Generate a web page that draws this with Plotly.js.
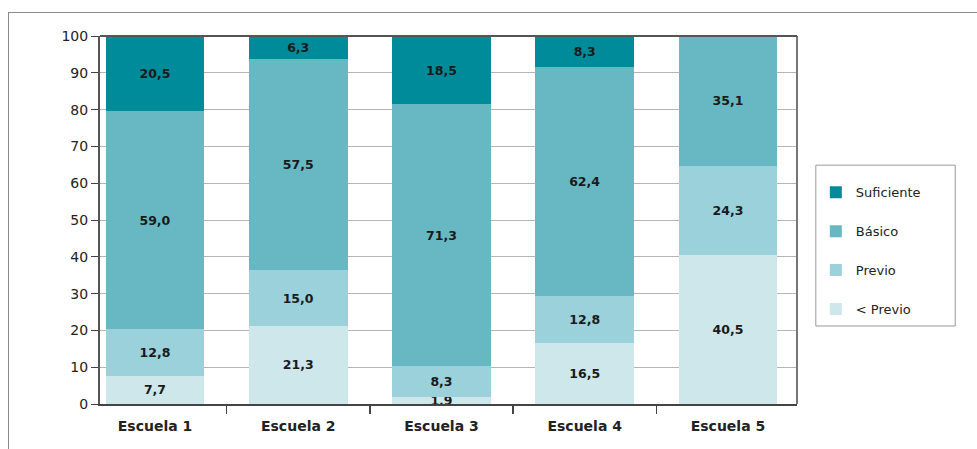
<!DOCTYPE html>
<html>
<head>
<meta charset="utf-8">
<script src="https://cdn.plot.ly/plotly-3.0.1.min.js"></script>
<style>
html,body{margin:0;padding:0;background:#fff;overflow:hidden;}
#frame{position:absolute;left:8px;top:12px;width:1200px;height:600px;border:1px solid #8a8a8a;box-sizing:border-box;pointer-events:none;z-index:5;}
#chart{position:absolute;left:0;top:0;width:977px;height:449px;}
</style>
</head>
<body>
<div id="chart"></div>
<div id="frame"></div>
<script>
var categories = ["Escuela 1", "Escuela 2", "Escuela 3", "Escuela 4", "Escuela 5"];
var menosPrevio = [7.7, 21.3, 1.9, 16.5, 40.5];
var previo = [12.8, 15.0, 8.3, 12.8, 24.3];
var basico = [59.0, 57.5, 71.3, 62.4, 35.1];
var suficiente = [20.5, 6.3, 18.5, 8.3, 0];
var seriesNames = ["< Previo", "Previo", "Básico", "Suficiente"];
var seriesColors = ["#cde7eb", "#9bd1da", "#67b8c3", "#008b9b"];
var yTicks = [0, 10, 20, 30, 40, 50, 60, 70, 80, 90, 100];

function fmt(arr){ return arr.map(function(v){ return v > 0 ? v.toFixed(1).replace('.', ',') : ''; }); }

var allVals = [menosPrevio, previo, basico, suficiente];
var traces = allVals.map(function(vals, i){
  return {
    type: 'bar',
    name: seriesNames[i],
    x: categories,
    y: vals,
    text: fmt(vals),
    textposition: 'inside',
    insidetextanchor: 'middle',
    constraintext: 'none',
    textfont: {family: 'DejaVu Sans, sans-serif', size: 12.5, color: '#1a1a1a', weight: 'bold'},
    marker: {color: seriesColors[i], line: {width: 0}},
    legendgroup: 'g' + i,
    legendrank: 4 - i,
    hoverinfo: 'none'
  };
});

var layout = {
  width: 977, height: 449,
  margin: {l: 100, r: 180, t: 36, b: 45},
  barmode: 'stack',
  bargap: 0.31,
  paper_bgcolor: '#fff',
  plot_bgcolor: '#fff',
  font: {family: 'DejaVu Sans, sans-serif', size: 13, color: '#222'},
  showlegend: true,
  legend: {
    x: 1.027, y: 0.616, xanchor: 'left', yanchor: 'top',
    traceorder: 'grouped',
    tracegroupgap: 19,
    borderwidth: 0,
    bgcolor: 'rgba(0,0,0,0)',
    font: {size: 13, color: '#222'},
    itemwidth: 30
  },
  xaxis: {
    type: 'category',
    range: [-0.384, 4.482],
    showline: true, linecolor: '#444', linewidth: 2, mirror: false,
    ticks: 'outside', tickson: 'boundaries', ticklen: 8, tickcolor: '#444', tickwidth: 1.5,
    ticklabelstandoff: 8,
    tickfont: {family: 'DejaVu Sans, sans-serif', size: 14, color: '#222', weight: 'bold'},
    showgrid: false
  },
  yaxis: {
    range: [0, 100],
    tickvals: yTicks,
    ticktext: yTicks.map(String),
    showline: true, linecolor: '#555', linewidth: 2,
    ticks: 'outside', ticklen: 7, tickcolor: '#444',
    showgrid: true, gridcolor: '#b5b5b5', gridwidth: 1,
    tickfont: {size: 14, color: '#222'},
    zeroline: false
  },
  shapes: [
    {type: 'line', xref: 'paper', yref: 'paper', x0: 1, x1: 1, y0: 0, y1: 1, line: {color: '#777', width: 2}},
    {type: 'line', xref: 'paper', yref: 'paper', x0: 0, x1: 1, y0: 1, y1: 1, line: {color: '#555', width: 2}},
    {type: 'rect', xref: 'paper', yref: 'paper', x0: 1.027, x1: 1.227, y0: 0.212, y1: 0.649, line: {color: '#999', width: 1}, fillcolor: 'rgba(0,0,0,0)', layer: 'above'}
  ]
};

Plotly.newPlot('chart', traces, layout, {displayModeBar: false, staticPlot: true});
</script>
</body>
</html>
